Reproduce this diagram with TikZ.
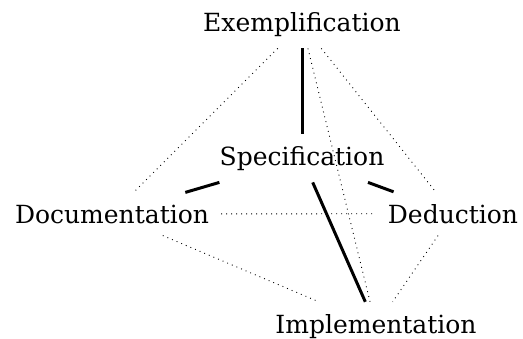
\documentclass[tikz,border=0pt]{standalone}
\usepackage{fontspec}
\setmainfont{DejaVu Serif}
\tikzstyle{concept} = [inner sep=12pt, font=\fontsize{25}{29}\selectfont]
\tikzstyle{strong} = [line width=3pt]
\tikzstyle{weak} = [line width=0.9pt, dash pattern=on 0.9pt off 4.1pt]

\begin{document}
\begin{tikzpicture}[x=1pt,y=-1pt]
\useasboundingbox (0,0) rectangle (523,338);
% the five concepts
\node[concept, anchor=base] (exemp) at (302,31) {Exemplification};
\node[concept, anchor=base] (spec) at (302,165) {Specification};
\node[concept, anchor=base] (doc) at (112,223) {Documentation};
\node[concept, anchor=base] (ded) at (453,223) {Deduction};
\node[concept, anchor=base] (impl) at (376,333) {Implementation};
% links through the specification
\draw [strong] (exemp) -- (spec);
\draw [strong] (spec) -- (doc);
\draw [strong] (spec) -- (ded);
\draw [strong] (spec) -- (impl);
% the outer frame
\draw [weak] (exemp) -- (doc);
\draw [weak] (exemp) -- (ded);
\draw [weak] (exemp) -- (impl);
\draw [weak] (doc) -- (ded);
\draw [weak] (doc) -- (impl);
\draw [weak] (ded) -- (impl);
\end{tikzpicture}
\end{document}
